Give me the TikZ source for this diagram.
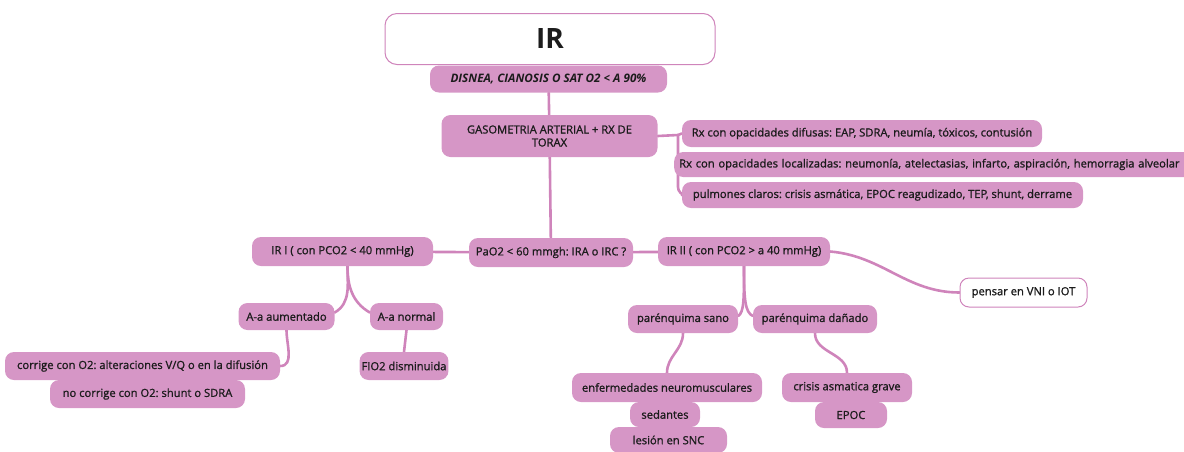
\documentclass[tikz,border=0pt]{standalone}
\usepackage{fontspec}
\setmainfont{Open Sans}
\newfontfamily\mapfont{Open Sans}[FakeBold=1.2]
\usetikzlibrary{backgrounds}
\definecolor{mapfill}{RGB}{214,150,198}
\definecolor{maplink}{RGB}{207,132,187}
\definecolor{maptext}{RGB}{28,28,28}
\frenchspacing

\begin{document}
\begin{tikzpicture}[x=1pt,y=1pt,
        mbox/.style 2 args={fill=mapfill,rounded corners=9pt,text=maptext,inner sep=2pt,
            minimum width=#1pt,minimum height=#2pt,font=\mapfont\fontsize{11.2}{13}\selectfont},
        wbox/.style 2 args={mbox={#1}{#2},fill=white,draw=maplink,line width=1pt},
        link/.style={draw=maplink,line width=2.6pt,line cap=round}]
                \useasboundingbox (0,0) rectangle (1184,-451);
                \clip (0,0) rectangle (1184,-451);

                % cabecera
                \node[wbox={330}{51},rounded corners=12pt,font=\fontsize{28}{30}\selectfont\bfseries] (ir) at(550,-39) {IR};
                \node[mbox={237}{27},font=\fontsize{11.7}{13}\selectfont\bfseries\itshape] (disnea) at(548.5,-79) {DISNEA, CIANOSIS O SAT O2 < A 90\%};
                \node[mbox={216}{42},align=center] (gaso) at(549.5,-136) {GASOMETRIA ARTERIAL + RX DE\\TORAX};

                % radiografia
                \node[mbox={360}{27}] (rxdif) at(862,-133.5) {Rx con opacidades difusas: EAP, SDRA, neumía, tóxicos, contusión};
                \node[mbox={0}{25},anchor=west,text width=540pt,align=left,inner xsep=5pt] (rxloc) at(674,-164.5) {Rx con opacidades localizadas: neumonía, atelectasias, infarto, aspiración, hemorragia alveolar};
                \node[mbox={401}{26}] (pulm) at(882.5,-195) {pulmones claros: crisis asmática, EPOC reagudizado, TEP, shunt, derrame};
                \coordinate (rxfork) at(678,-135);

                % nivel PaO2
                \node[mbox={164}{29}] (pao) at(551,-252.5) {PaO2 < 60 mmgh: IRA o IRC ?};
                \node[mbox={181}{29}] (ir1) at(342.5,-251.5) {IR I ( con PCO2 < 40 mmHg)};
                \node[mbox={172}{29}] (ir2) at(744,-251.5) {IR II ( con PCO2 > a 40 mmHg)};
                \node[wbox={127}{29}] (vni) at(1023.5,-292.5) {pensar en VNI o IOT};

                % rama IR I
                \node[mbox={96}{27}] (aaum) at(286.5,-316.5) {A-a aumentado};
                \node[mbox={73}{27}] (anorm) at(406.5,-316.5) {A-a normal};
                \node[mbox={275}{28}] (corr) at(142.5,-366) {corrige con O2: alteraciones V/Q o en la difusión};
                \node[mbox={195}{28}] (nocorr) at(147.5,-394) {no corrige con O2: shunt o SDRA};
                \node[mbox={88}{28}] (fio) at(404,-366) {FIO2 disminuida};

                % rama IR II
                \node[mbox={110}{28}] (psano) at(683,-319) {parénquima sano};
                \node[mbox={124}{28}] (pdan) at(815,-319) {parénquima dañado};
                \node[mbox={190}{29}] (enf) at(667,-387.5) {enfermedades neuromusculares};
                \node[mbox={70}{25}] (sed) at(665,-414.5) {sedantes};
                \node[mbox={117}{26}] (lesion) at(668.5,-440) {lesión en SNC};
                \node[mbox={130}{29}] (crisis) at(847,-387.5) {crisis asmatica grave};
                \node[mbox={72}{26}] (epoc) at(851,-415) {EPOC};

                \begin{scope}[on background layer]
                \draw[link] (disnea) -- (gaso);
                \draw[link] (gaso) -- (pao);
                \draw[link] (gaso.east) -- (rxfork) -- (rxdif.west);
                \draw[link,rounded corners=8pt] (rxfork) |- (pulm.west);
                \draw[link] (ir1) -- (pao);
                \draw[link] (pao) -- (ir2);
                \draw[link] (ir2.east) to[out=-5,in=180] (vni.west);
                \draw[link] ([xshift=5pt]ir1.south) to[out=-90,in=30] ([yshift=4pt]aaum.east);
                \draw[link] ([xshift=5pt]ir1.south) to[out=-90,in=150] ([yshift=4pt]anorm.west);
                \draw[link] (ir2.south) .. controls (744,-300) and (744,-312) .. ([yshift=3pt]psano.east);
                \draw[link] (ir2.south) .. controls (744,-300) and (745,-312) .. ([yshift=3pt]pdan.west);
                \draw[link] (aaum.south) to[out=-90,in=0] (corr.east);
                \draw[link] (anorm.south) -- (fio.north);
                \draw[link] (psano.south) to[out=-90,in=90] (enf.north);
                \draw[link] (pdan.south) to[out=-90,in=90] (crisis.north);
                \end{scope}
            \end{tikzpicture}
\end{document}
